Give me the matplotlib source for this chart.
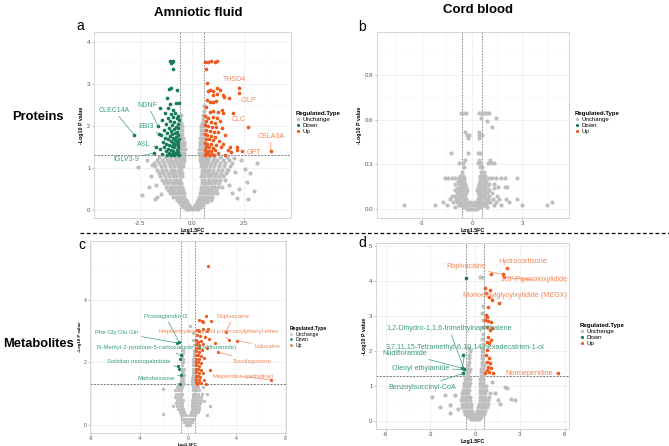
import numpy as np
import matplotlib
matplotlib.use('Agg')
import matplotlib.pyplot as plt
from matplotlib.lines import Line2D

plt.rcParams['font.family'] = ['Liberation Sans', 'DejaVu Sans']
plt.rcParams['axes.unicode_minus'] = False

# ------------------------------------------------------------------ data
legend_labels = ['Unchange', 'Down', 'Up']

# ---- panel a : proteins, amniotic fluid
a_grey_rows = [
    (0.02, [-0.3, -0.18, -0.06, 0.06, 0.18, 0.3]),
    (0.07, [-0.42, -0.3, -0.2, -0.1, 0.1, 0.2, 0.3, 0.42]),
    (0.12, [-0.52, -0.4, -0.28, -0.16, 0.16, 0.28, 0.4, 0.52]),
    (0.18, [-0.62, -0.5, -0.38, -0.26, 0.24, 0.36, 0.48, 0.6, 0.72]),
    (0.25, [-0.75, -0.62, -0.5, -0.38, -0.28, 0.28, 0.38, 0.5, 0.62, 0.75, 0.9]),
    (0.32, [-0.9, -0.76, -0.62, -0.5, -0.38, 0.34, 0.46, 0.58, 0.7, 0.84, 0.98]),
    (0.40, [-1.05, -0.9, -0.76, -0.62, -0.5, -0.4, 0.38, 0.5, 0.62, 0.76, 0.9, 1.06, 1.2]),
    (0.48, [-1.15, -1.0, -0.85, -0.7, -0.56, -0.44, 0.42, 0.54, 0.68, 0.82, 0.98, 1.14]),
    (0.56, [-1.25, -1.08, -0.92, -0.76, -0.62, -0.48, 0.46, 0.6, 0.74, 0.9, 1.06, 1.24, 1.45]),
    (0.64, [-1.35, -1.16, -0.98, -0.82, -0.66, -0.52, 0.48, 0.62, 0.78, 0.94, 1.12, 1.3]),
    (0.72, [-1.45, -1.25, -1.05, -0.88, -0.72, -0.56, 0.5, 0.65, 0.82, 1.0, 1.18, 1.38, 1.6]),
    (0.80, [-1.55, -1.32, -1.12, -0.94, -0.76, -0.6, -0.48, 0.46, 0.6, 0.76, 0.94, 1.12, 1.32, 1.52]),
    (0.88, [-1.62, -1.4, -1.18, -0.98, -0.8, -0.64, -0.5, 0.48, 0.62, 0.8, 0.98, 1.18, 1.4, 1.65]),
    (0.96, [-1.7, -1.46, -1.24, -1.04, -0.85, -0.68, -0.52, 0.5, 0.66, 0.84, 1.04, 1.24, 1.46, 1.75]),
    (1.04, [-1.78, -1.52, -1.3, -1.08, -0.88, -0.7, -0.54, -0.42, 0.42, 0.55, 0.7, 0.88, 1.08, 1.3, 1.55, 1.85]),
    (1.12, [-1.85, -1.58, -1.35, -1.12, -0.92, -0.74, -0.56, -0.44, 0.44, 0.58, 0.74, 0.92, 1.12, 1.35, 1.6, 1.95]),
    (1.20, [-1.72, -1.46, -1.22, -1.0, -0.8, -0.64, -0.5, -0.38, 0.38, 0.5, 0.64, 0.8, 1.0, 1.22, 1.48, 1.78]),
    (1.27, [-1.6, -1.3, -1.05, -0.82, -0.66, -0.52, -0.4, 0.4, 0.52, 0.66, 0.84, 1.08, 1.35, 1.7]),
    (1.36, [-0.58, -0.47, -0.37, 0.34, 0.45, 0.56]),
    (1.45, [-0.57, -0.46, -0.36, 0.36, 0.47, 0.57]),
    (1.54, [-0.56, -0.46, -0.37, 0.37, 0.48, 0.58]),
    (1.63, [-0.57, -0.47, -0.39, 0.39, 0.49, 0.57]),
    (1.72, [-0.55, -0.45, 0.4, 0.5, 0.58]),
    (1.81, [-0.57, -0.47, 0.42, 0.52]),
    (1.90, [-0.55, -0.46, 0.44, 0.54]),
    (1.99, [-0.56, -0.48, 0.46, 0.56]),
    (2.08, [-0.55, 0.49, 0.57]),
    (2.17, [-0.56, 0.52]),
    (2.26, [-0.54, 0.55]),
    (2.36, [0.56]),
    (2.48, [0.57]),
]
a_grey_extra = [(-2.44, 0.36), (-1.8, 0.26), (-1.68, 0.32), (-2.1, 0.55), (-2.0, 0.8),
                (-1.95, 1.08), (-2.2, 1.2), (-2.6, 1.02), (-1.5, 0.38), (2.73, 0.26),
                (2.65, 0.67), (3.14, 1.11), (2.82, 0.87), (2.3, 0.5), (2.1, 0.9),
                (2.4, 1.2), (1.95, 0.4), (2.55, 0.98), (2.05, 1.25), (2.2, 0.28),
                (3.0, 0.45), (1.8, 0.6), (1.7, 0.95), (-1.75, 0.6)]
a_down = [(-1.07, 3.55), (-0.99, 3.53), (-0.91, 3.55), (-1.02, 3.49), (-0.94, 3.36),
          (-1.1, 2.88), (-1.02, 2.9), (-0.74, 2.87), (-1.23, 2.66), (-0.78, 2.56),
          (-0.64, 2.56), (-1.07, 2.52), (-1.55, 2.44), (-1.18, 2.44), (-0.94, 2.38),
          (-1.3, 2.32), (-0.8, 2.3), (-1.0, 2.28), (-0.7, 2.25), (-1.15, 2.2),
          (-0.9, 2.22), (-0.75, 2.18), (-1.45, 2.15), (-0.65, 2.15), (-1.05, 2.12),
          (-0.85, 2.1), (-1.25, 2.05), (-0.7, 2.05), (-0.95, 2.02), (-1.64, 2.0),
          (-0.78, 1.98), (-1.12, 1.96), (-0.66, 1.95), (-0.88, 1.92), (-1.35, 1.9),
          (-1.0, 1.88), (-0.72, 1.87), (-1.2, 1.84), (-0.82, 1.83), (-1.59, 1.81),
          (-0.95, 1.8), (-0.68, 1.79), (-1.5, 1.78), (-1.08, 1.76), (-0.77, 1.75),
          (-1.3, 1.72), (-0.9, 1.72), (-0.65, 1.7), (-1.18, 1.68), (-0.84, 1.67),
          (-1.02, 1.65), (-0.72, 1.64), (-1.42, 1.62), (-0.93, 1.6), (-0.67, 1.6),
          (-1.25, 1.58), (-0.8, 1.57), (-1.1, 1.55), (-0.7, 1.53), (-1.76, 1.51),
          (-0.98, 1.52), (-1.35, 1.5), (-0.86, 1.49), (-0.66, 1.48), (-1.15, 1.46),
          (-1.55, 1.45), (-0.75, 1.44), (-1.02, 1.42), (-0.9, 1.41), (-1.28, 1.4),
          (-0.68, 1.39), (-0.82, 1.37), (-1.84, 1.36), (-1.1, 1.36), (-0.95, 1.34),
          (-1.45, 1.34), (-0.72, 1.33), (-1.2, 1.32), (-0.65, 1.31), (-0.86, 1.31),
          (-1.0, 1.31), (-2.8, 1.79)]
a_up = [(0.63, 3.53), (0.79, 3.53), (0.92, 3.55), (1.12, 3.53), (1.2, 3.55),
        (0.68, 3.36), (0.71, 3.03), (2.3, 2.9), (2.3, 2.78), (0.76, 2.83),
        (0.87, 2.86), (1.03, 2.84), (1.2, 2.9), (1.36, 2.86), (1.03, 2.74),
        (1.23, 2.76), (1.49, 2.74), (1.57, 2.7), (1.81, 2.67), (0.71, 2.62),
        (0.87, 2.58), (1.03, 2.58), (1.17, 2.6), (0.66, 2.46), (0.87, 2.34),
        (1.03, 2.36), (1.28, 2.34), (1.44, 2.38), (1.52, 2.3), (2.0, 2.3),
        (2.73, 1.98), (3.82, 1.41), (2.41, 1.41), (2.17, 1.44), (1.84, 1.49),
        (0.65, 2.25), (0.8, 2.2), (1.0, 2.22), (1.2, 2.18), (0.7, 2.12),
        (0.9, 2.1), (1.1, 2.08), (1.35, 2.12), (0.62, 2.02), (0.78, 2.0),
        (0.95, 1.98), (1.15, 1.97), (1.45, 1.95), (0.68, 1.9), (0.85, 1.88),
        (1.05, 1.86), (1.25, 1.85), (0.62, 1.8), (0.75, 1.78), (0.92, 1.76),
        (1.1, 1.75), (1.6, 1.78), (0.66, 1.7), (0.82, 1.68), (1.0, 1.66),
        (1.3, 1.65), (0.62, 1.6), (0.74, 1.58), (0.9, 1.57), (1.18, 1.56),
        (1.5, 1.58), (0.68, 1.5), (0.84, 1.49), (1.02, 1.48), (1.4, 1.5),
        (0.62, 1.42), (0.76, 1.41), (0.94, 1.4), (1.12, 1.42), (1.75, 1.43),
        (0.66, 1.35), (0.8, 1.34), (0.98, 1.33), (1.25, 1.35), (0.63, 1.31),
        (0.88, 1.31), (1.05, 1.31), (1.6, 1.32), (2.2, 1.51), (1.9, 1.38)]
a_label_names = ['CLEC14A', 'NDNF', 'EBI3', 'ASL', 'IGLV3-9',
                 'THSD4', 'CILP', 'CLC', 'CELA3A', 'GPT']
a_label_points = [(-2.8, 1.79), (-1.64, 2.0), (-1.59, 1.81), (-1.76, 1.51), (-1.84, 1.36),
                  (2.3, 2.9), (2.3, 2.78), (2.73, 1.98), (3.82, 1.41), (2.41, 1.41)]
a_label_types = ['Down'] * 5 + ['Up'] * 5

# ---- panel b : proteins, cord blood (all unchanged)
b_grey_rows = [
    (0.000, [-0.3, -0.18, -0.06, 0.06, 0.18, 0.3]),
    (0.015, [-1.0, -0.55, -0.42, 0.42, 0.55, 0.9]),
    (0.030, [-4.05, -2.2, -1.5, -0.8, -0.65, -0.5, -0.35, -0.2, -0.05, 0.1, 0.25, 0.4,
             0.55, 0.7, 0.85, 1.3, 1.7, 2.96, 4.45]),
    (0.050, [-1.7, -1.1, -0.9, -0.7, -0.5, -0.3, -0.1, 0.1, 0.3, 0.5, 0.7, 0.9, 1.1,
             1.4, 2.2, 4.74]),
    (0.065, [-1.3, -0.95, -0.75, -0.55, -0.35, 0.35, 0.55, 0.75, 0.95, 1.25, 1.6, 2.0, 2.66]),
    (0.085, [-1.21, -1.0, -0.8, -0.6, -0.4, 0.4, 0.6, 0.8, 1.0, 1.5]),
    (0.105, [-0.9, -0.7, -0.5, -0.35, 0.35, 0.5, 0.7, 0.9, 1.2]),
    (0.125, [-1.0, -0.8, -0.6, -0.45, -0.3, 0.3, 0.45, 0.6, 0.8, 1.0]),
    (0.140, [-0.61, -0.9, 1.3]),
    (0.150, [-0.7, -0.55, -0.38, 0.38, 0.55, 0.7, 0.9, 1.57, 1.96, 2.06]),
    (0.170, [-1.0, -0.8, -0.6, -0.42, 0.42, 0.6, 0.8, 1.0, 1.3]),
    (0.190, [-0.85, -0.65, -0.48, 0.48, 0.65, 0.85]),
    (0.207, [-1.6, -1.4, -1.2, -1.0, -0.8, -0.6, -0.45, 0.45, 0.6, 0.8, 1.0, 1.2, 1.4,
             1.7, 1.96, 2.66]),
    (0.225, [-0.7, -0.55, 0.5, 0.65, 0.8]),
    (0.250, [-0.6, 0.55, 0.7]),
    (0.280, [-0.5, 0.45, 0.6]),
    (0.310, [-0.75, -0.52, 0.35, 0.5, 0.97, 1.12, 1.28]),
    (0.330, [-0.4, 0.4, 1.05]),
    (0.380, [-1.25, -0.22, 0.38, 0.48]),
    (0.480, [-0.22, 0.42]),
    (0.500, [-0.32, -0.16, 0.43, 0.58]),
    (0.520, [-0.42, 0.42]),
    (0.550, [1.17]),
    (0.590, [0.87]),
    (0.610, [0.54, 1.41]),
    (0.645, [-0.65, -0.52, -0.36, 0.42, 0.55, 0.68, 0.8, 0.92, 1.0]),
]

# ---- panel c : metabolites, amniotic fluid
c_grey_rows = [
    (0.0, [-0.2, 0.0, 0.2]),
    (0.1, [-0.35, -0.15, 0.1, 0.3]),
    (0.2, [-0.5, -0.3, -0.1, 0.15, 0.35, 0.5]),
    (0.3, [-0.6, -0.4, -0.2, 0.2, 0.4, 0.6]),
    (0.4, [-0.7, -0.5, -0.3, 0.25, 0.45, 0.65, 0.85]),
    (0.5, [-0.8, -0.6, -0.4, 0.3, 0.5, 0.7, 0.9]),
    (0.6, [-1.22, -0.9, -0.7, -0.5, 0.3, 0.5, 0.7, 0.95, 1.83]),
    (0.7, [-1.0, -0.75, -0.5, 0.35, 0.55, 0.75, 1.0]),
    (0.8, [-0.95, -0.7, -0.45, 0.35, 0.55, 0.8, 1.05]),
    (0.9, [-1.05, -0.8, -0.55, 0.4, 0.6, 0.85, 1.1]),
    (1.0, [-1.0, -0.75, -0.5, 0.4, 0.6, 0.85, 1.15, 1.6]),
    (1.1, [-1.1, -0.8, -0.55, 0.45, 0.65, 0.9]),
    (1.2, [-0.95, -0.7, -0.5, 0.4, 0.6, 0.85, 1.2]),
    (1.3, [-0.8, -0.55, -0.35, 0.35, 0.55]),
    (1.4, [-0.55, -0.38, 0.3, 0.5]),
    (1.5, [-0.55, -0.4, 0.35, 0.52]),
    (1.6, [-0.5, -0.35, 0.38, 0.55]),
    (1.7, [-0.52, -0.38, 0.4, 0.56]),
    (1.8, [-0.5, -0.35, 0.4, 0.55]),
    (1.9, [-0.48, 0.42, 0.56]),
    (2.0, [-0.5, -0.38, 0.44, 0.56]),
    (2.1, [-0.45, 0.45]),
    (2.2, [-0.48, 0.5]),
    (2.3, [-0.42, 0.46]),
    (2.4, [-0.39, 0.52]),
    (2.55, [0.48]),
    (2.72, [0.44]),
    (2.93, [0.44]),
    (3.16, [0.17]),
]
c_grey_extra = [(-2.1, 0.35), (-2.05, 1.14), (1.6, 0.3), (1.35, 0.75)]
c_down = [(-0.89, 2.62), (-0.75, 2.66), (-0.61, 2.22), (-0.66, 2.1), (-0.8, 1.87),
          (-0.72, 1.78), (-0.6, 1.59), (-0.66, 1.32)]
c_up = [(1.69, 5.09), (1.49, 3.48), (0.94, 3.35), (1.13, 3.32), (1.27, 3.3), (1.91, 3.32),
        (0.72, 3.04), (0.8, 3.02), (0.94, 3.0), (1.22, 3.05), (1.55, 3.0), (1.69, 3.06),
        (0.72, 2.87), (1.0, 2.83), (1.41, 2.8), (1.77, 2.75), (3.1, 2.96), (3.43, 2.72),
        (4.09, 2.69), (0.68, 2.7), (0.85, 2.66), (1.05, 2.68), (0.7, 2.58), (0.95, 2.55),
        (1.25, 2.6), (2.24, 2.61), (0.66, 2.47), (0.88, 2.45), (1.55, 2.47), (0.7, 2.36),
        (0.9, 2.34), (1.15, 2.38), (2.52, 2.32), (0.66, 2.25), (0.82, 2.22), (1.05, 2.2),
        (0.7, 2.12), (0.92, 2.1), (1.3, 2.14), (0.66, 2.02), (0.85, 2.0), (1.1, 1.98),
        (0.7, 1.9), (0.95, 1.88), (0.66, 1.8), (0.84, 1.78), (1.05, 1.76), (1.83, 1.75),
        (0.7, 1.68), (0.9, 1.66), (1.2, 1.65), (0.66, 1.57), (0.82, 1.55), (1.02, 1.52),
        (0.7, 1.46), (0.9, 1.44), (1.35, 1.45), (0.66, 1.36), (0.82, 1.34), (1.1, 1.35),
        (1.5, 1.32), (0.74, 1.31), (6.86, 1.44)]
c_label_names = ['Prostaglandin I2', 'Phe Gly Glu Gln',
                 'N-Methyl-2-pyridone-5-carboxamide (Nudifloramide)',
                 'Sorbitan monopalmitate', 'Maltohexaose', 'Ropivacaine',
                 'Heptaethylene glycol p-tert-octylphenyl ether', 'Lidocaine',
                 'Tussilagonone', 'Meperidine (pethidine)']
c_label_points = [(-0.75, 2.66), (-0.89, 2.62), (-0.61, 2.22), (-0.8, 1.87), (-0.6, 1.59),
                  (3.1, 2.96), (3.43, 2.72), (4.09, 2.69), (2.52, 2.32), (6.86, 1.44)]
c_label_types = ['Down'] * 5 + ['Up'] * 5

# ---- panel d : metabolites, cord blood
d_grey_rows = [
    (0.05, [-0.3, -0.12, 0.06, 0.24]),
    (0.12, [-0.5, -0.32, -0.14, 0.04, 0.22, 0.4]),
    (0.20, [-0.65, -0.47, -0.29, -0.11, 0.07, 0.25, 0.43, 0.6]),
    (0.30, [-0.75, -0.57, -0.39, -0.21, 0.15, 0.33, 0.51, 0.69]),
    (0.40, [-0.85, -0.65, -0.45, -0.25, 0.2, 0.4, 0.6, 0.8]),
    (0.50, [-0.9, -0.7, -0.5, -0.3, 0.25, 0.45, 0.65, 0.85]),
    (0.60, [-0.95, -0.75, -0.55, -0.35, 0.3, 0.5, 0.7, 0.9]),
    (0.70, [-0.9, -0.7, -0.5, -0.32, 0.3, 0.5, 0.7, 0.95]),
    (0.80, [-0.85, -0.65, -0.45, 0.3, 0.5, 0.7, 1.0]),
    (0.90, [-0.8, -0.6, -0.42, 0.32, 0.52, 0.72]),
    (1.00, [-0.75, -0.55, -0.38, 0.35, 0.55, 0.75]),
    (1.10, [-0.72, -0.52, -0.36, 0.35, 0.55]),
    (1.20, [-0.68, -0.5, -0.34, 0.36, 0.56]),
    (1.30, [-0.62, -0.45, 0.38, 0.56]),
    (1.40, [-0.55, -0.38, 0.4, 0.57]),
    (1.50, [-0.5, -0.34, 0.42, 0.56]),
    (1.60, [-0.45, 0.44, 0.57]),
    (1.70, [-0.4, 0.45, 0.56]),
    (1.80, [-0.42, 0.46]),
    (1.90, [-0.38, 0.48]),
    (2.00, [-0.35, 0.5]),
    (2.10, [-0.4, 0.5]),
    (2.20, [0.52]),
    (2.35, [0.5]),
    (2.50, [0.55]),
    (2.70, [0.52]),
    (2.90, [0.56]),
    (3.10, [0.5]),
    (3.30, [0.55]),
    (4.13, [0.3, 0.45]),
]
d_grey_extra = [(2.13, 0.94), (1.34, 0.79), (2.68, 0.6), (1.68, 0.5), (-2.35, 0.41),
                (-1.68, 0.22), (-1.34, 0.74), (-2.9, 0.7), (-1.68, 0.46), (-1.16, 0.34),
                (-2.0, 0.75), (2.01, 0.97), (2.42, 0.63), (1.57, 0.6), (1.12, 1.13)]
d_down = [(-0.63, 4.09), (-0.78, 1.89), (-0.85, 1.51), (-0.72, 1.48), (-0.78, 1.37)]
d_up = [(2.13, 4.37), (1.86, 4.2), (1.95, 4.12), (1.07, 4.2), (1.61, 3.37), (5.53, 1.37),
        (0.67, 3.8), (1.0, 3.75), (0.74, 3.66), (0.96, 3.56), (1.12, 3.47), (0.89, 3.28),
        (0.74, 3.04), (0.83, 2.98), (0.67, 2.9), (0.89, 2.87), (1.07, 2.85), (0.78, 2.7),
        (1.0, 2.61), (1.12, 2.66), (0.89, 2.42), (0.78, 2.27), (0.96, 2.23), (1.07, 2.32),
        (0.8, 2.03), (0.74, 1.89), (0.96, 1.8), (0.78, 1.7), (1.0, 1.65), (0.89, 1.56),
        (1.07, 1.51), (0.83, 1.46), (0.96, 1.41), (1.23, 1.37), (0.7, 1.37)]
d_label_names = ['Hydrocortisone', 'Ropivacaine', "2',6'-Pipecoloxylidide",
                 'Monoethylglycylxylidide (MEGX)', 'Normeperidine',
                 '1,2-Dihydro-1,1,6-trimethylnaphthalene',
                 '3,7,11,15-Tetramethyl-6,10,14-hexadecatrien-1-ol',
                 'Nudifloramide', 'Oleoyl ethylamide', 'Benzoylsuccinyl-CoA']
d_label_points = [(2.13, 4.37), (1.86, 4.2), (1.95, 4.12), (1.61, 3.37), (5.53, 1.37),
                  (-0.72, 1.48), (-0.85, 1.51), (-0.85, 1.51), (-0.72, 1.48), (-0.78, 1.37)]
d_label_types = ['Up'] * 5 + ['Down'] * 5

fc_cut = 0.585
p_cut = 1.301

# ------------------------------------------------------------------ layout (not data)
a_text_pos = [(-3.79, 2.38), (-2.15, 2.5), (-2.25, 1.98), (-2.33, 1.57), (-3.17, 1.21),
              (2.05, 3.1), (2.73, 2.62), (2.25, 2.16), (3.82, 1.76), (3.01, 1.37)]
c_text_pos = [(-1.85, 3.46), (-5.87, 2.96), (-1.77, 2.47), (-4.04, 2.02), (-2.66, 1.47),
              (3.76, 3.46), (2.52, 2.98), (6.53, 2.52), (5.28, 2.04), (4.51, 1.54)]
d_text_pos = [(3.18, 4.58), (-0.6, 4.42), (3.96, 4.04), (2.68, 3.59), (3.62, 1.37),
              (-1.74, 2.64), (-0.63, 2.11), (-4.7, 1.94), (-3.62, 1.49), (-3.53, 0.97)]

W, H = 669, 446
GREY = '#BEBEBE'
DOWN = '#167C58'
UP = '#EE5A1F'
DOWN_TXT = '#3E9E7D'
UP_TXT = '#F2875A'
colors = {'Unchange': GREY, 'Down': DOWN, 'Up': UP}
txt_colors = {'Down': DOWN_TXT, 'Up': UP_TXT}

fig = plt.figure(figsize=(W / 100, H / 100), dpi=100)


def px_axes(l, t, r, b):
    return fig.add_axes([l / W, 1 - b / H, (r - l) / W, (b - t) / H])


def rows_to_xy(rows, extra=()):
    pts = [(x, y) for y, xs in rows for x in xs] + list(extra)
    arr = np.array(pts, dtype=float)
    return arr[:, 0], arr[:, 1]


def setup(ax, xlim, ylim, xticks, xlabels, yticks, ylabels, tfs, lfs, ylpad):
    ax.set_xticks(xticks)
    ax.set_xticklabels(xlabels)
    ax.set_yticks(yticks)
    ax.set_yticklabels(ylabels)
    xs = xticks[1] - xticks[0]
    ys = yticks[1] - yticks[0]
    ax.set_xticks([xticks[0] - xs / 2] + [t + xs / 2 for t in xticks], minor=True)
    ax.set_yticks([yticks[0] - ys / 2] + [t + ys / 2 for t in yticks], minor=True)
    ax.set_xlim(*xlim)
    ax.set_ylim(*ylim)
    ax.grid(which='major', color='#EBEBEB', lw=0.5)
    ax.grid(which='minor', color='#F5F5F5', lw=0.35)
    ax.set_axisbelow(True)
    ax.tick_params(which='minor', length=0)
    ax.tick_params(which='major', length=1.5, width=0.4, color='#8A8A8A',
                   labelsize=tfs, labelcolor='#555555', pad=1)
    for s in ax.spines.values():
        s.set_color('#D4D4D4')
        s.set_linewidth(0.7)
    ax.set_xlabel('Log1.5FC', fontsize=lfs, fontweight='bold', labelpad=1)
    ax.set_ylabel('-Log10 P value', fontsize=lfs, fontweight='bold', labelpad=ylpad)


def thresholds(ax):
    for v in (-fc_cut, fc_cut):
        ax.axvline(v, color='#7A7A7A', lw=0.6, ls=(0, (2, 1.5)), zorder=1.5)
    ax.axhline(p_cut, color='#666666', lw=0.6, ls=(0, (2.5, 1.5)), zorder=1.5)


def draw_points(ax, grey, down, up, sg, sc):
    gx, gy = grey
    ax.scatter(gx, gy, s=sg, c=GREY, linewidths=0, zorder=2)
    if len(down):
        d = np.array(down)
        ax.scatter(d[:, 0], d[:, 1], s=sc, c=DOWN, linewidths=0, zorder=3)
    if len(up):
        u = np.array(up)
        ax.scatter(u[:, 0], u[:, 1], s=sc, c=UP, linewidths=0, zorder=3)


def labels(ax, names, points, types, pos, fs):
    for n, p, t, q in zip(names, points, types, pos):
        ax.annotate(n, xy=p, xytext=q, textcoords='data', ha='center', va='center',
                    fontsize=fs, color=txt_colors[t], zorder=5,
                    arrowprops=dict(arrowstyle='-', color=txt_colors[t], lw=0.5,
                                    shrinkA=0, shrinkB=0.5))


def legend(x, y, fs, ms):
    handles = [Line2D([], [], marker='o', ls='none', color=colors[k], markersize=ms,
                      markeredgewidth=0) for k in legend_labels]
    lg = fig.legend(handles, legend_labels, title='Regulated.Type', loc='upper left',
                    bbox_to_anchor=(x / W, 1 - y / H), frameon=False, fontsize=fs,
                    title_fontproperties={'weight': 'bold', 'size': fs},
                    handlelength=0.5, handletextpad=0.6, labelspacing=0.12,
                    borderpad=0, borderaxespad=0)
    lg._legend_box.align = 'left'


# ---- panel a
ax_a = px_axes(94, 32, 291, 218)
setup(ax_a, (-4.75, 4.8), (-0.19, 4.24), [-2.5, 0, 2.5], ['-2.5', '0.0', '2.5'],
      [0, 1, 2, 3, 4], ['0', '1', '2', '3', '4'], 4.4, 3.8, 2)
thresholds(ax_a)
draw_points(ax_a, rows_to_xy(a_grey_rows, a_grey_extra), a_down, a_up, 9, 7)
labels(ax_a, a_label_names, a_label_points, a_label_types, a_text_pos, 5.0)
legend(296, 111, 4.4, 2.3)

# ---- panel b
ax_b = px_axes(377, 32, 569, 218)
setup(ax_b, (-5.65, 5.77), (-0.06, 1.19), [-3, 0, 3], ['-3', '0', '3'],
      [0, 0.3, 0.6, 0.9], ['0.0', '0.3', '0.6', '0.9'], 4.4, 3.8, 2)
for v in (-fc_cut, fc_cut):
    ax_b.axvline(v, color='#7A7A7A', lw=0.6, ls=(0, (2, 1.5)), zorder=1.5)
draw_points(ax_b, rows_to_xy(b_grey_rows), [], [], 9, 7)
legend(575, 111, 4.4, 2.3)

# ---- panel c
ax_c = px_axes(90, 241, 286, 433)
setup(ax_c, (-8.1, 8.1), (-0.26, 5.88), [-8, -4, 0, 4, 8], ['-8', '-4', '0', '4', '8'],
      [0, 2, 4], ['0', '2', '4'], 3.6, 3.2, 1.5)
thresholds(ax_c)
draw_points(ax_c, rows_to_xy(c_grey_rows, c_grey_extra), c_down, c_up, 6, 5.5)
labels(ax_c, c_label_names, c_label_points, c_label_types, c_text_pos, 4.3)
legend(290, 326, 3.6, 1.9)

# ---- panel d
ax_d = px_axes(376, 243, 569, 429)
setup(ax_d, (-6.64, 6.3), (-0.23, 5.1), [-6, -3, 0, 3, 6], ['-6', '-3', '0', '3', '6'],
      [0, 1, 2, 3, 4, 5], ['0', '1', '2', '3', '4', '5'], 4.4, 3.8, 1.5)
thresholds(ax_d)
draw_points(ax_d, rows_to_xy(d_grey_rows, d_grey_extra), d_down, d_up, 9, 7)
labels(ax_d, d_label_names, d_label_points, d_label_types, d_text_pos, 5.2)
legend(580, 323, 4.4, 2.3)

# ---- figure-level texts
fig.text(198 / W, 1 - 13 / H, 'Amniotic fluid', ha='center', va='center',
         fontsize=9.5, fontweight='bold')
fig.text(478 / W, 1 - 10 / H, 'Cord blood', ha='center', va='center',
         fontsize=9.5, fontweight='bold')
fig.text(38 / W, 1 - 117 / H, 'Proteins', ha='center', va='center',
         fontsize=9.3, fontweight='bold')
fig.text(38 / W, 1 - 344 / H, 'Metabolites', ha='center', va='center',
         fontsize=9.3, fontweight='bold')
for letter, x, y in [('a', 80, 26), ('b', 362, 27), ('c', 82, 245), ('d', 362, 243)]:
    fig.text(x / W, 1 - y / H, letter, ha='center', va='center', fontsize=10)
fig.add_artist(Line2D([80 / W, 1.0], [1 - 233 / H, 1 - 233 / H], transform=fig.transFigure,
                      color='black', lw=0.9, ls=(0, (3, 2))))

fig.savefig('out.png', dpi=100)
